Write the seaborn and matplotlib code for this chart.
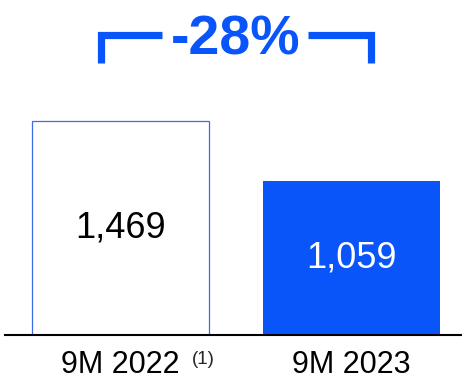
import matplotlib
matplotlib.use('Agg')
import matplotlib.pyplot as plt
import seaborn as sns
import pandas as pd

categories = ['9M 2022', '9M 2023']
values = [1469, 1059]
value_labels = ['1,469', '1,059']
label_colors = ['black', 'white']
change_label = '-28%'
footnote = '(1)'

BLUE = '#0A55FA'

sns.set_theme(style='white')
plt.rcParams['font.family'] = ['Liberation Sans', 'DejaVu Sans']

fig = plt.figure(figsize=(4.62, 3.8), dpi=100)
ax = fig.add_axes([0, 45 / 380, 1, 335 / 380])
df = pd.DataFrame({'cat': categories, 'val': values})
sns.barplot(data=df, x='cat', y='val', hue='cat', palette=['white', BLUE],
            width=0.768, saturation=1, legend=False, ax=ax)
ax.patches[0].set_edgecolor('#3A6BE8')
ax.patches[0].set_linewidth(0.9)
ax.patches[1].set_linewidth(0)

ax.set_ylim(0, 2300)
ax.set_xlim(-0.523, 1.4816)
for s in ['left', 'right', 'top']:
    ax.spines[s].set_visible(False)
ax.spines['bottom'].set_color('black')
ax.spines['bottom'].set_linewidth(1.5)
ax.spines['bottom'].set_bounds(-0.501, 1.4816)
ax.set_xlabel('')
ax.set_ylabel('')
ax.set_yticks([])
ax.tick_params(axis='x', length=0, pad=11, labelsize=22, labelcolor='black')

for i, (v, lab, c) in enumerate(zip(values, value_labels, label_colors)):
    ax.text(i, v / 2, lab, ha='center', va='center', fontsize=26, color=c)

# bracket
yb_top, yb_bot = 2058, 1869
ax.plot([-0.085, -0.085, 0.18], [yb_bot, yb_top, yb_top], color=BLUE, lw=5.2,
        solid_capstyle='butt', solid_joinstyle='miter')
ax.plot([0.813, 1.087, 1.087], [yb_top, yb_top, yb_bot], color=BLUE, lw=5.2,
        solid_capstyle='butt', solid_joinstyle='miter')
ax.text(0.5, 2060, change_label, ha='center', va='center_baseline', fontsize=40,
        fontweight='bold', color=BLUE)

fig.text(203.5 / 462, 1 - 359 / 380, footnote, ha='center', va='center', fontsize=13.5)

fig.savefig('out.png', dpi=100)
